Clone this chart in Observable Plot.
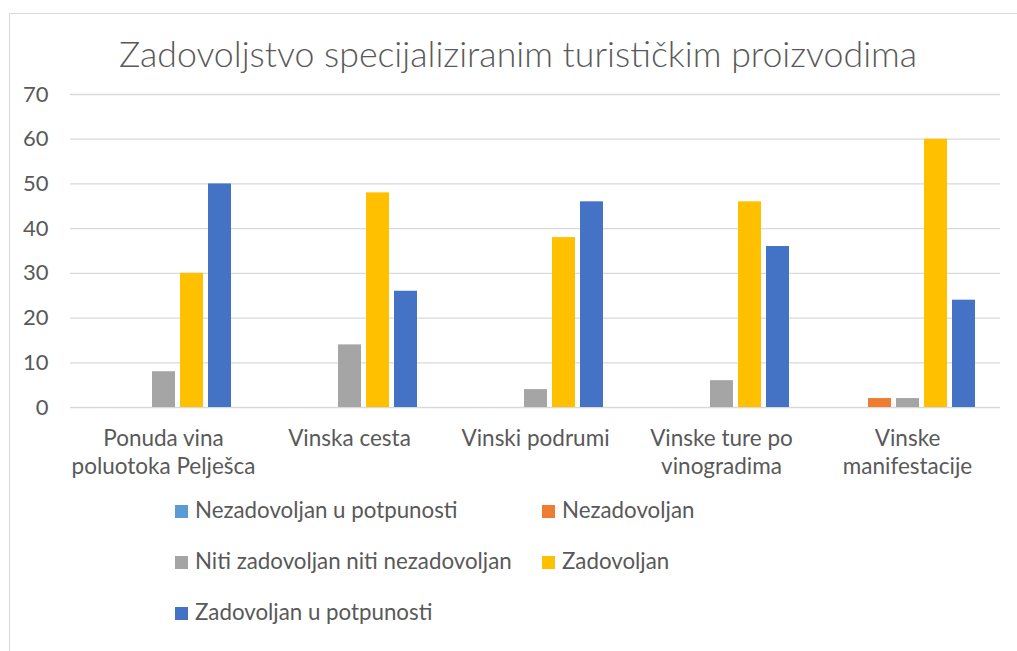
<!DOCTYPE html>
<html>
<head>
<meta charset="utf-8">
<script src="https://cdn.jsdelivr.net/npm/d3@7"></script>
<script src="https://cdn.jsdelivr.net/npm/@observablehq/plot@0.6"></script>
<style>
  html, body { margin: 0; padding: 0; background: #fff; }
  body { width: 1017px; height: 651px; position: relative; overflow: hidden; font-family: Lato, "Open Sans", sans-serif; color: #595959; }
  #frame { position: absolute; left: 9px; top: 13px; width: 1020px; height: 700px; border: 1px solid #d9d9d9; box-sizing: border-box; }
  #title { position: absolute; left: 0; width: 1036px; top: 33px; text-align: center; font-size: 35.7px; font-weight: 300; line-height: 42px; color: #595959; white-space: nowrap; }
  #chart { position: absolute; left: 0; top: 80px; }
  .leg { position: absolute; font-size: 22.3px; line-height: 26px; white-space: nowrap; color: #595959; }
  .leg span.sw { display: inline-block; width: 13px; height: 13px; margin-right: 7px; vertical-align: 0px; }
</style>
</head>
<body>
<div id="frame"></div>
<div id="title">Zadovoljstvo specijaliziranim turističkim proizvodima</div>
<div id="chart"></div>
<div id="legend"></div>
<script>
const categories = [
  "Ponuda vina\npoluotoka Pelješca",
  "Vinska cesta",
  "Vinski podrumi",
  "Vinske ture po\nvinogradima",
  "Vinske\nmanifestacije"
];
const seriesNames = [
  "Nezadovoljan u potpunosti",
  "Nezadovoljan",
  "Niti zadovoljan niti nezadovoljan",
  "Zadovoljan",
  "Zadovoljan u potpunosti"
];
const seriesColors = ["#5B9BD5", "#ED7D31", "#A5A5A5", "#FFC000", "#4472C4"];
const nezadovoljanUPotpunosti = [0, 0, 0, 0, 0];
const nezadovoljan = [0, 0, 0, 0, 2];
const nitiNiti = [8, 14, 4, 6, 2];
const zadovoljan = [30, 48, 38, 46, 60];
const zadovoljanUPotpunosti = [50, 26, 46, 36, 24];
const yTicks = [0, 10, 20, 30, 40, 50, 60, 70];

const seriesValues = [nezadovoljanUPotpunosti, nezadovoljan, nitiNiti, zadovoljan, zadovoljanUPotpunosti];
const data = [];
categories.forEach((c, i) => {
  seriesNames.forEach((s, j) => {
    data.push({ cat: c, series: s, value: seriesValues[j][i] });
  });
});

const chart = Plot.plot({
  width: 1017,
  height: 407,
  marginLeft: 70,
  marginRight: 17,
  marginTop: 14,
  marginBottom: 80,
  style: { fontFamily: "Lato, 'Open Sans', sans-serif", color: "#595959", background: "transparent" },
  fx: { domain: categories, padding: 0, label: null },
  x: { domain: seriesNames, paddingInner: 0.18, paddingOuter: 0.91, axis: null },
  y: { domain: [0, 70], label: null },
  color: { domain: seriesNames, range: seriesColors },
  marks: [
    Plot.gridY(yTicks, { stroke: "#d9d9d9", strokeOpacity: 1, strokeWidth: 1.3 }),
    Plot.axisY(yTicks, { tickSize: 0, tickPadding: 22, fontSize: 22, label: null }),
    Plot.axisFx({ anchor: "bottom", tickSize: 0, tickPadding: 18, fontSize: 22.5, lineHeight: 1.26, label: null }),
    Plot.barY(data, { fx: "cat", x: "series", y: "value", fill: "series" })
  ]
});
document.getElementById("chart").appendChild(chart);

const legendPos = [
  [175, 497], [542, 497],
  [175, 548], [542, 548],
  [175, 599]
];
const legend = document.getElementById("legend");
seriesNames.forEach((s, i) => {
  const d = document.createElement("div");
  d.className = "leg";
  d.style.left = legendPos[i][0] + "px";
  d.style.top = legendPos[i][1] + "px";
  d.innerHTML = `<span class="sw" style="background:${seriesColors[i]}"></span>${s}`;
  legend.appendChild(d);
});
</script>
</body>
</html>
